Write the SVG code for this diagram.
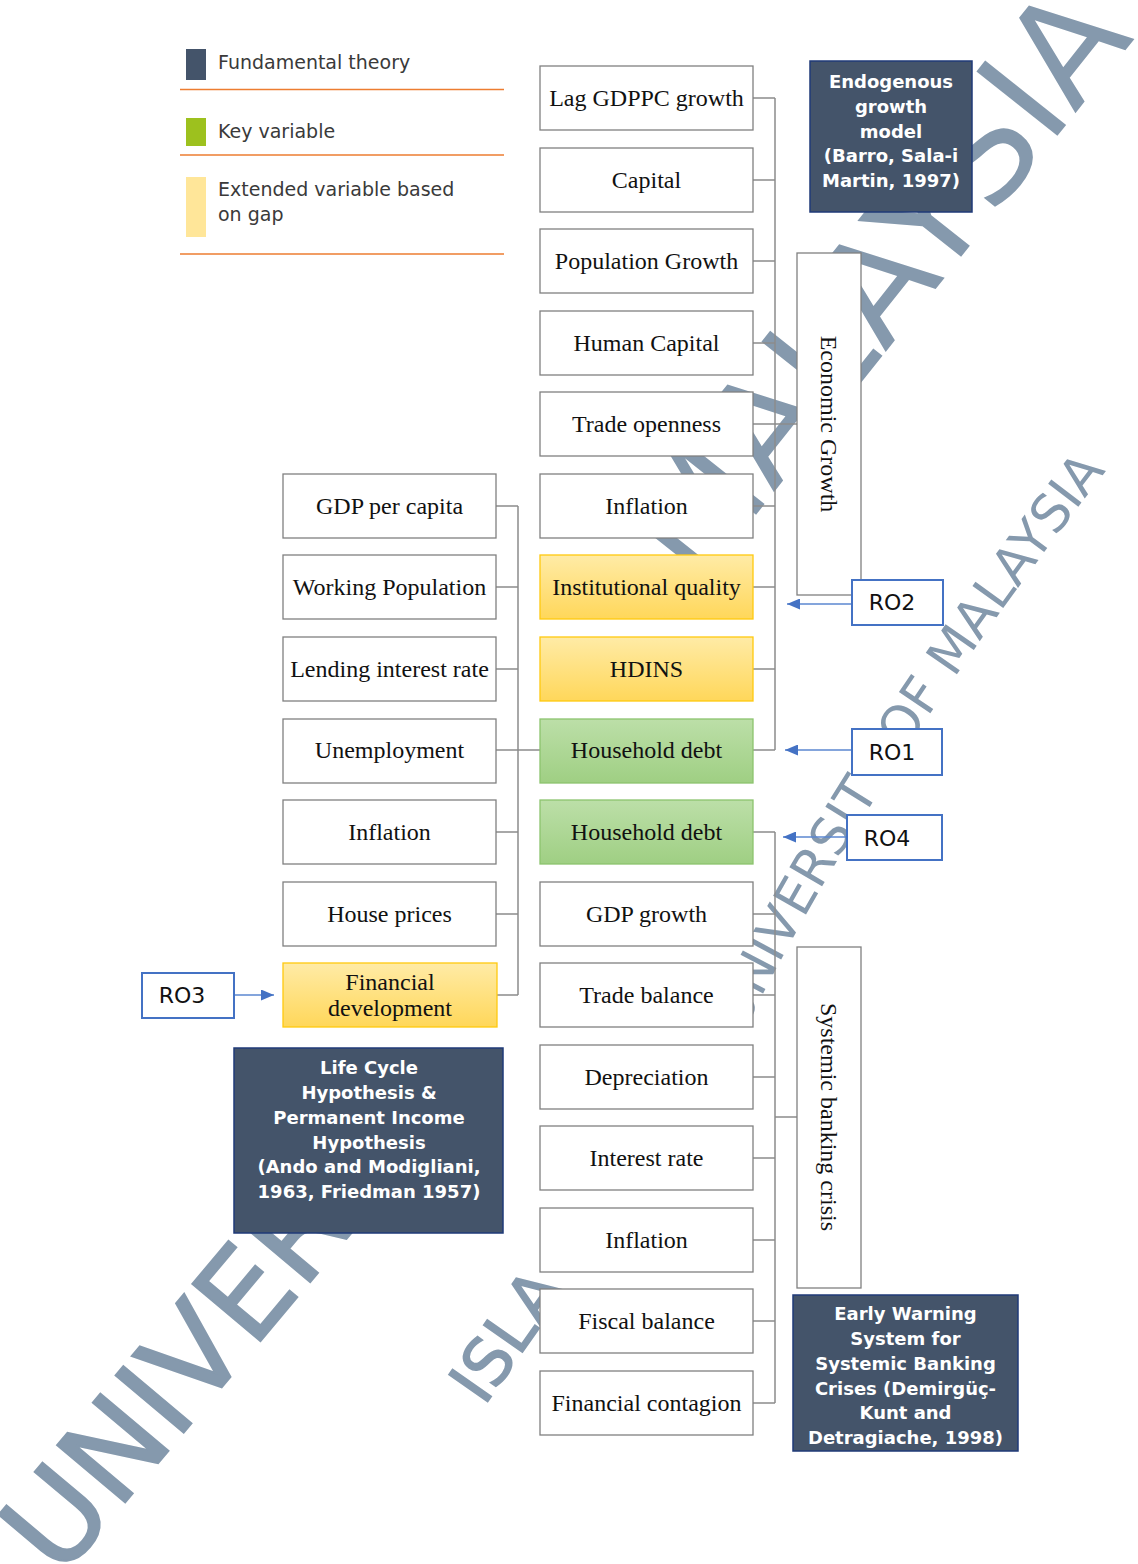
<svg xmlns="http://www.w3.org/2000/svg" width="1138" height="1564" viewBox="0 0 1138 1564">
<defs>
<linearGradient id="gY" x1="0" y1="0" x2="0" y2="1"><stop offset="0" stop-color="#ffeba6"/><stop offset="1" stop-color="#ffd75a"/></linearGradient>
<linearGradient id="gG" x1="0" y1="0" x2="0" y2="1"><stop offset="0" stop-color="#bcdfa8"/><stop offset="1" stop-color="#9fcf83"/></linearGradient>
<marker id="ah" viewBox="0 0 13 11" refX="13" refY="5.5" markerWidth="13" markerHeight="11" markerUnits="userSpaceOnUse" orient="auto"><path d="M0,0 L13,5.5 L0,11 z" fill="#4472c4"/></marker>
<path id="wmArc" d="M735,1050 Q870,770 1130,440"/>
<style>
.box{fill:#fff;stroke:#808080;stroke-width:1.3}
.yel{fill:url(#gY);stroke:#ffc90e;stroke-width:1.3}
.grn{fill:url(#gG);stroke:#8cc46e;stroke-width:1.3}
.dark{fill:#44546a;stroke:#1f3a78;stroke-width:1.5}
.ro{fill:#fff;stroke:#4472c4;stroke-width:2}
.t{font-family:"Liberation Serif",serif;font-size:24px;fill:#111;text-anchor:middle}
.w{font-family:"DejaVu Sans",sans-serif;font-weight:bold;font-size:18px;fill:#fff;text-anchor:middle}
.lg{font-family:"DejaVu Sans",sans-serif;font-size:19px;fill:#3a3a3a}
.rol{font-family:"DejaVu Sans",sans-serif;font-size:22px;fill:#111;text-anchor:middle}
.conn{stroke:#8c8c8c;stroke-width:1.5;fill:none}
.arr{stroke:#5b87d0;stroke-width:1.4;fill:none;marker-end:url(#ah)}
.sep{stroke:#ed7d31;stroke-width:1.3}
.wm{font-family:"DejaVu Sans",sans-serif;fill:#8599ad}
</style>
</defs>

<g id="watermark">
<text class="wm" font-size="122" stroke="#8599ad" stroke-width="2" transform="translate(60,1580) rotate(-50)">UNIVER</text>
<text class="wm" font-size="142" transform="translate(697,589) rotate(-51.5)">MALAYSIA</text>
<text class="wm" font-size="65" stroke="#8599ad" stroke-width="1.5" transform="translate(484,1407) rotate(-55)">ISLA</text>
<text class="wm" font-size="52"><textPath href="#wmArc" startOffset="20">UNIVERSIT</textPath></text>
<text class="wm" font-size="52"><textPath href="#wmArc" startOffset="344">OF</textPath></text>
<text class="wm" font-size="52"><textPath href="#wmArc" startOffset="432">MALAYSIA</textPath></text>
</g>

<g id="legend">
<rect x="186" y="49" width="20" height="31" fill="#44546a"/>
<text class="lg" x="218" y="69">Fundamental theory</text>
<line class="sep" x1="180" y1="89.5" x2="504" y2="89.5"/>
<rect x="186" y="118" width="20" height="28" fill="#9dc11e"/>
<text class="lg" x="218" y="138">Key variable</text>
<line class="sep" x1="180" y1="155" x2="504" y2="155"/>
<rect x="186" y="177" width="20" height="60" fill="#ffe699"/>
<text class="lg" x="218" y="196">Extended variable based</text>
<text class="lg" x="218" y="221">on gap</text>
<line class="sep" x1="180" y1="254" x2="504" y2="254"/>
</g>

<g id="connectors">
<path class="conn" d="M496,506H518M496,587H518M496,669H518M496,750H540M496,832H518M496,914H518M497,995H518M518,506V995"/>
<path class="conn" d="M753,98H775M753,180H775M753,261H775M753,343H775M753,424H775M753,506H775M753,587H775M753,669H775M753,750H775M775,98V750M775,424H797"/>
<path class="conn" d="M753,832H775M753,914H775M753,995H775M753,1077H775M753,1158H775M753,1240H775M753,1321H775M753,1403H775M775,832V1403M775,1117H797"/>
<line class="arr" x1="852" y1="604" x2="787" y2="604"/>
<line class="arr" x1="852" y1="750" x2="785" y2="750"/>
<line class="arr" x1="847" y1="837" x2="783" y2="837"/>
<line class="arr" x1="234" y1="995" x2="274" y2="995"/>
</g>

<g id="m0"><rect class="box" x="540" y="66" width="213" height="64"/><text class="t" x="646.5" y="106">Lag GDPPC growth</text></g>
<g id="m1"><rect class="box" x="540" y="148" width="213" height="64"/><text class="t" x="646.5" y="188">Capital</text></g>
<g id="m2"><rect class="box" x="540" y="229" width="213" height="64"/><text class="t" x="646.5" y="269">Population Growth</text></g>
<g id="m3"><rect class="box" x="540" y="311" width="213" height="64"/><text class="t" x="646.5" y="351">Human Capital</text></g>
<g id="m4"><rect class="box" x="540" y="392" width="213" height="64"/><text class="t" x="646.5" y="432">Trade openness</text></g>
<g id="m5"><rect class="box" x="540" y="474" width="213" height="64"/><text class="t" x="646.5" y="514">Inflation</text></g>
<g id="m6"><rect class="yel" x="540" y="555" width="213" height="64"/><text class="t" x="646.5" y="595">Institutional quality</text></g>
<g id="m7"><rect class="yel" x="540" y="637" width="213" height="64"/><text class="t" x="646.5" y="677">HDINS</text></g>
<g id="m8"><rect class="grn" x="540" y="719" width="213" height="64"/><text class="t" x="646.5" y="758">Household debt</text></g>
<g id="m9"><rect class="grn" x="540" y="800" width="213" height="64"/><text class="t" x="646.5" y="840">Household debt</text></g>
<g id="m10"><rect class="box" x="540" y="882" width="213" height="64"/><text class="t" x="646.5" y="922">GDP growth</text></g>
<g id="m11"><rect class="box" x="540" y="963" width="213" height="64"/><text class="t" x="646.5" y="1003">Trade balance</text></g>
<g id="m12"><rect class="box" x="540" y="1045" width="213" height="64"/><text class="t" x="646.5" y="1085">Depreciation</text></g>
<g id="m13"><rect class="box" x="540" y="1126" width="213" height="64"/><text class="t" x="646.5" y="1166">Interest rate</text></g>
<g id="m14"><rect class="box" x="540" y="1208" width="213" height="64"/><text class="t" x="646.5" y="1248">Inflation</text></g>
<g id="m15"><rect class="box" x="540" y="1289" width="213" height="64"/><text class="t" x="646.5" y="1329">Fiscal balance</text></g>
<g id="m16"><rect class="box" x="540" y="1371" width="213" height="64"/><text class="t" x="646.5" y="1411">Financial contagion</text></g>

<g id="l5"><rect class="box" x="283" y="474" width="213" height="64"/><text class="t" x="389.5" y="514">GDP per capita</text></g>
<g id="l6"><rect class="box" x="283" y="555" width="213" height="64"/><text class="t" x="389.5" y="595">Working Population</text></g>
<g id="l7"><rect class="box" x="283" y="637" width="213" height="64"/><text class="t" x="389.5" y="677">Lending interest rate</text></g>
<g id="l8"><rect class="box" x="283" y="719" width="213" height="64"/><text class="t" x="389.5" y="758">Unemployment</text></g>
<g id="l9"><rect class="box" x="283" y="800" width="213" height="64"/><text class="t" x="389.5" y="840">Inflation</text></g>
<g id="l10"><rect class="box" x="283" y="882" width="213" height="64"/><text class="t" x="389.5" y="922">House prices</text></g>
<g id="l11"><rect class="yel" x="283" y="963" width="214" height="64"/><text class="t" x="390" y="990">Financial</text><text class="t" x="390" y="1016">development</text></g>

<g id="econGrowth"><rect class="box" x="797" y="253" width="64" height="342"/><text class="t" transform="translate(829,424) rotate(90)" x="0" y="8">Economic Growth</text></g>
<g id="bankCrisis"><rect class="box" x="797" y="947" width="64" height="341"/><text class="t" transform="translate(829,1117) rotate(90)" x="0" y="8">Systemic banking crisis</text></g>

<g id="theoryEndo"><rect class="dark" x="810" y="61" width="162" height="151"/>
<text class="w" x="891" y="87.5">Endogenous</text><text class="w" x="891" y="112.5">growth</text><text class="w" x="891" y="137.5">model</text><text class="w" x="891" y="161.5">(Barro, Sala-i</text><text class="w" x="891" y="186.5">Martin, 1997)</text></g>
<g id="theoryLife"><rect class="dark" x="234" y="1048" width="269" height="185"/>
<text class="w" x="369" y="1073.5">Life Cycle</text><text class="w" x="369" y="1098.5">Hypothesis &amp;</text><text class="w" x="369" y="1123.5">Permanent Income</text><text class="w" x="369" y="1148.5">Hypothesis</text><text class="w" x="369" y="1172.5">(Ando and Modigliani,</text><text class="w" x="369" y="1197.5">1963, Friedman 1957)</text></g>
<g id="theoryEWS"><rect class="dark" x="793" y="1295" width="225" height="156"/>
<text class="w" x="905.5" y="1319.5">Early Warning</text><text class="w" x="905.5" y="1344.5">System for</text><text class="w" x="905.5" y="1369.5">Systemic Banking</text><text class="w" x="905.5" y="1394.5">Crises (Demirgüç-</text><text class="w" x="905.5" y="1418.5">Kunt and</text><text class="w" x="905.5" y="1443.5">Detragiache, 1998)</text></g>

<g id="ro2"><rect class="ro" x="852" y="580" width="91" height="45"/><text class="rol" x="892" y="610">RO2</text></g>
<g id="ro1"><rect class="ro" x="852" y="729" width="90" height="46"/><text class="rol" x="892" y="760">RO1</text></g>
<g id="ro4"><rect class="ro" x="847" y="815" width="95" height="45"/><text class="rol" x="887" y="846">RO4</text></g>
<g id="ro3"><rect class="ro" x="142" y="973" width="92" height="45"/><text class="rol" x="182" y="1003">RO3</text></g>
</svg>
